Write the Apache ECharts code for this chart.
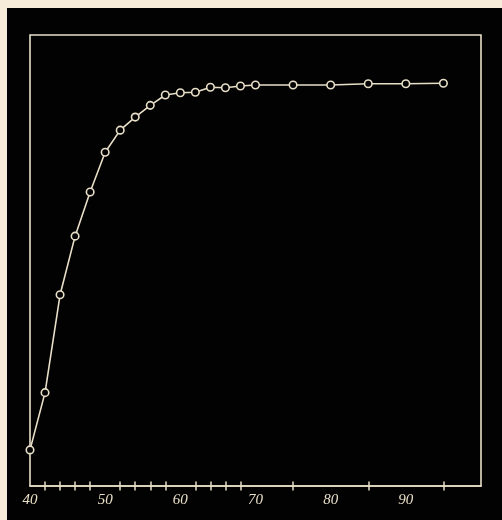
<!DOCTYPE html>
<html>
<head>
<meta charset="utf-8">
<script src="https://cdn.jsdelivr.net/npm/echarts@6/dist/echarts.min.js"></script>
<style>
html,body{margin:0;padding:0;background:#f6ecd9;}
#c{width:502px;height:520px;}
</style>
</head>
<body>
<div id="c"></div>
<script>
const xValues = [40, 42, 44, 46, 48, 50, 52, 54, 56, 58, 60, 62, 64, 66, 68, 70, 75, 80, 85, 90, 95];
const yValues = [8.0, 20.7, 42.4, 55.4, 65.2, 74.0, 78.9, 81.8, 84.4, 86.7, 87.2, 87.3, 88.4, 88.3, 88.7, 88.9, 88.9, 88.9, 89.2, 89.2, 89.3];
const labelValues = [40, 50, 60, 70, 80, 90];
const tickValues = [42, 44, 46, 48, 52, 54, 56, 58, 62, 64, 66, 68, 75, 85, 95];

const ink = '#e8dfc8';
const chart = echarts.init(document.getElementById('c'), null, {renderer: 'canvas'});
const points = xValues.map((x, i) => [x, yValues[i]]);

chart.setOption({
  backgroundColor: '#f6ecd9',
  animation: false,
  graphic: [{
    type: 'rect', z: -10, silent: true,
    shape: {x: 7, y: 8, width: 495, height: 512},
    style: {fill: '#030202'}
  }],
  grid: {left: 30, top: 35, width: 451, height: 451, show: true, borderColor: ink, borderWidth: 1.6, backgroundColor: 'transparent'},
  xAxis: [{
    type: 'value', min: 40, max: 100,
    splitLine: {show: false},
    axisLine: {show: true, lineStyle: {color: ink, width: 1.6}},
    axisTick: {show: true, customValues: tickValues, length: 4.5, inside: false, lineStyle: {color: ink, width: 1.5}},
    axisLabel: {show: true, customValues: labelValues, margin: 7, color: ink, fontSize: 15, fontStyle: 'italic', fontFamily: 'Liberation Serif, DejaVu Serif, serif'}
  }, {
    type: 'value', min: 40, max: 100, position: 'bottom', offset: 0,
    splitLine: {show: false},
    axisLine: {show: false},
    axisTick: {show: true, customValues: tickValues, length: 4.5, inside: true, lineStyle: {color: ink, width: 1.5}},
    axisLabel: {show: false}
  }],
  yAxis: {type: 'value', min: 0, max: 100, show: false, splitLine: {show: false}},
  series: [{
    type: 'line',
    data: points,
    symbol: 'circle',
    symbolSize: 7.5,
    lineStyle: {color: ink, width: 1.6},
    itemStyle: {color: '#030202', borderColor: ink, borderWidth: 1.6}
  }]
});
</script>
</body>
</html>
